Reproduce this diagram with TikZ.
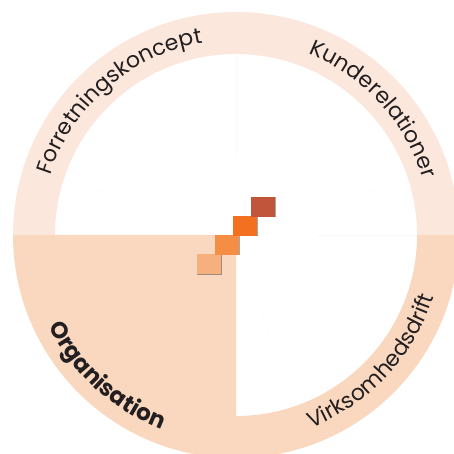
\documentclass[tikz,border=0pt]{standalone}
\usepackage{fontspec}
\setmainfont{Poppins}
\usetikzlibrary{decorations.text,shadows}
\definecolor{ringtop}{HTML}{FCE7DC}
\definecolor{ringbot}{HTML}{F9D8BF}
\definecolor{sqone}{HTML}{C1553B}
\definecolor{sqtwo}{HTML}{F37020}
\definecolor{sqthree}{HTML}{F68D45}
\definecolor{sqfour}{HTML}{F6B07E}
\definecolor{labelink}{HTML}{231F20}
\tikzset{
  step box/.style={minimum width=24.5pt,minimum height=20pt,inner sep=0pt,
    drop shadow={shadow xshift=0.7pt,shadow yshift=-0.7pt,opacity=0.35,fill=black}},
  ring label/.style={decorate,decoration={text along path,text align=center,
    text color=labelink,text={|\fontsize{22}{26}\selectfont|#1}}},
  ring bold/.style={decorate,decoration={text along path,text align=center,
    text color=labelink,text={|\fontsize{23}{27}\selectfont\bfseries|#1}}}
}
\begin{document}
\begin{tikzpicture}[x=1pt,y=1pt]
\useasboundingbox (-236,-219) rectangle (217,235);
% ring
\fill[ringtop] (180:223) arc[start angle=180,end angle=0,radius=223] -- (0:181) arc[start angle=0,end angle=180,radius=181] -- cycle;
\fill[ringbot] (270:223) arc[start angle=270,end angle=360,radius=223] -- (0:181) arc[start angle=360,end angle=270,radius=181] -- cycle;
\fill[ringbot] (0,0) -- (180:223) arc[start angle=180,end angle=270,radius=223] -- cycle;
% faint spokes
\foreach \a in {-72,-54,...,162}
  \draw[black!2,line width=0.4pt] (\a:80) -- (\a:181);
% labels
\path[ring label=Forretningskoncept] (176:195) arc[start angle=176,end angle=86,radius=195];
\path[ring label=Kunderelationer] (87.5:195) arc[start angle=87.5,end angle=-2.5,radius=195];
\path[ring label=Virksomhedsdrift] (-88:207) arc[start angle=-88,end angle=2,radius=207];
\path[ring bold=Organisation] (182.5:208) arc[start angle=182.5,end angle=272.5,radius=208];
% steps
\node[step box,fill=sqfour] (s4) at (-27,-29) {};
\node[step box,fill=sqthree] (s3) at (-9.1,-9.8) {};
\node[step box,fill=sqtwo] (s2) at (9,9.3) {};
\node[step box,fill=sqone] (s1) at (27.2,28.3) {};
\end{tikzpicture}
\end{document}
